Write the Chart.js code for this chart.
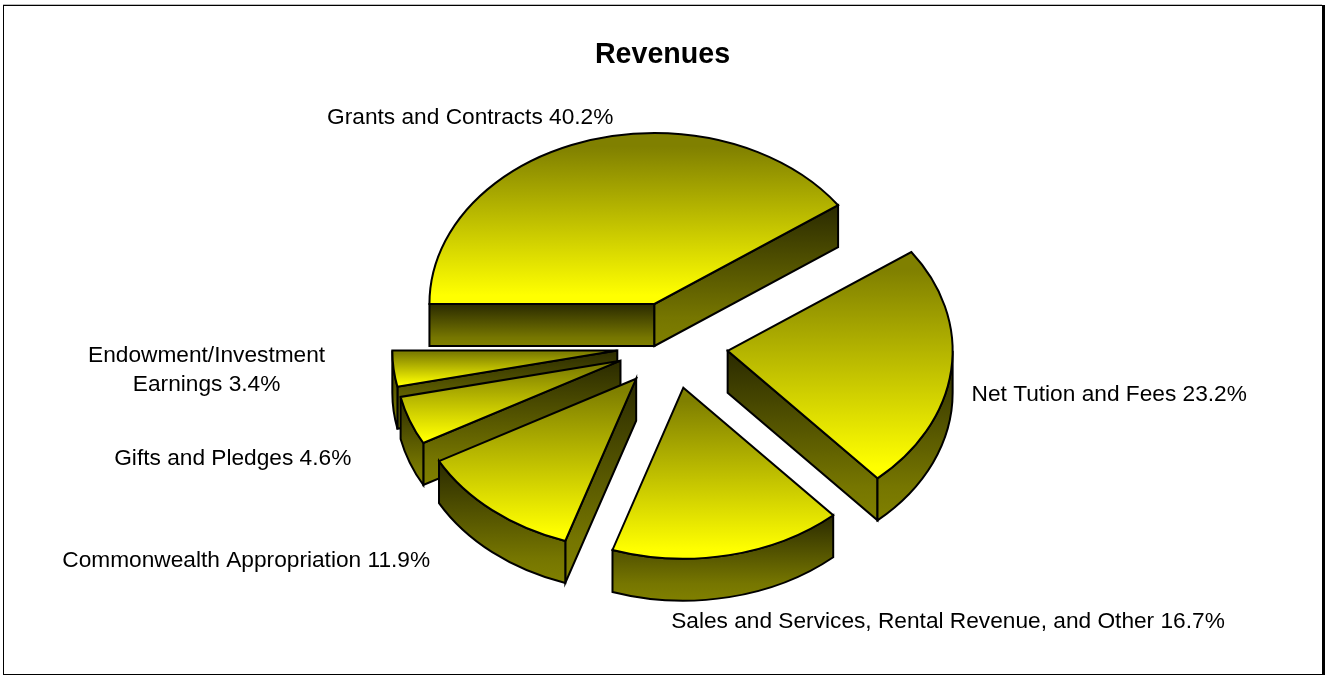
<!DOCTYPE html>
<html>
<head>
<meta charset="utf-8">
<title>Revenues</title>
<script src="https://cdn.jsdelivr.net/npm/chart.js@4"></script>
<style>
  body { margin: 0; background: #fff; }
  canvas { display: block; }
</style>
</head>
<body>
<canvas id="revenueChart" width="1325" height="675"></canvas>
<script>
const categories = [
    'Grants and Contracts',
    'Net Tution and Fees',
    'Sales and Services, Rental Revenue, and Other',
    'Commonwealth Appropriation',
    'Gifts and Pledges',
    'Endowment/Investment\nEarnings'
];
const shares = [40.2, 23.2, 16.7, 11.9, 4.6, 3.4];

// gap from pie centre, per slice
const explode = [58, 56, 56, 56, 55, 55];
// label shift from the middle of each slice rim
const labelShiftX = [-116, 158, 219, -246, -177, -187];
const labelShiftY = [-23, 25, 67, 51, 38, 2];

const TILT = 0.76;      // pie is seen from above, circle becomes an ellipse
const DEPTH = 42;       // thickness of the slices
const SHIFT_X = 9.5;    // pie sits a bit right of the title

function wallGradient(ctx, top, bottom) {
    const g = ctx.createLinearGradient(0, top, 0, bottom);
    g.addColorStop(0, '#2a2a00');
    g.addColorStop(0.8, '#767600');
    g.addColorStop(1, '#808000');
    return g;
}

function topGradient(ctx, top, bottom) {
    const g = ctx.createLinearGradient(0, top, 0, bottom);
    g.addColorStop(0, '#808000');
    g.addColorStop(0.08, '#808000');
    g.addColorStop(0.95, '#ffff00');
    g.addColorStop(1, '#ffff00');
    return g;
}

function paint(ctx, fill) {
    ctx.fillStyle = fill;
    ctx.fill();
    ctx.stroke();
}

// y range of the top face of one slice
function sliceRange(cy, r, a0, a1) {
    const ys = [cy, cy + Math.sin(a0) * r * TILT, cy + Math.sin(a1) * r * TILT];
    if (a0 < -Math.PI / 2 && a1 > -Math.PI / 2) ys.push(cy - r * TILT);
    if (a0 < Math.PI / 2 && a1 > Math.PI / 2) ys.push(cy + r * TILT);
    return [Math.min(...ys), Math.max(...ys)];
}

function drawEdgeWall(ctx, cx, cy, r, a) {
    const x = cx + Math.cos(a) * r;
    const y = cy + Math.sin(a) * r * TILT;
    ctx.beginPath();
    ctx.moveTo(cx, cy);
    ctx.lineTo(x, y);
    ctx.lineTo(x, y + DEPTH);
    ctx.lineTo(cx, cy + DEPTH);
    ctx.closePath();
    paint(ctx, wallGradient(ctx, Math.min(cy, y), Math.max(cy, y) + DEPTH));
}

function drawRim(ctx, cx, cy, r, a0, a1) {
    const from = Math.max(a0, 0);
    const to = Math.min(a1, Math.PI);
    if (to <= from) return;
    const yFrom = cy + Math.sin(from) * r * TILT;
    const yTo = cy + Math.sin(to) * r * TILT;
    let bottom = Math.max(yFrom, yTo);
    if (from < Math.PI / 2 && to > Math.PI / 2) bottom = cy + r * TILT;
    ctx.beginPath();
    ctx.ellipse(cx, cy, r, r * TILT, 0, from, to);
    ctx.lineTo(cx + Math.cos(to) * r, yTo + DEPTH);
    ctx.ellipse(cx, cy + DEPTH, r, r * TILT, 0, to, from, true);
    ctx.closePath();
    paint(ctx, wallGradient(ctx, Math.min(yFrom, yTo), bottom + DEPTH));
}

const pie3d = {
    id: 'pie3d',
    beforeDraw(chart) {
        const ctx = chart.ctx;
        ctx.save();
        ctx.fillStyle = '#fff';
        ctx.fillRect(0, 0, chart.width, chart.height);
        ctx.fillStyle = '#bbb';
        ctx.fillRect(3, 4, 1319, 1);
        ctx.fillStyle = '#000';
        ctx.fillRect(3, 5, 1319, 1);
        ctx.fillRect(3, 5, 1, 670);
        ctx.fillRect(3, 674, 1319, 1);
        ctx.fillRect(1322, 5, 3, 670);
        ctx.restore();
    },
    beforeDatasetDraw(chart, args) {
        const ctx = chart.ctx;
        const arcs = args.meta.data.map((arc, i) => ({ arc, i, mid: (arc.startAngle + arc.endAngle) / 2 }));
        // back slices first
        arcs.sort((a, b) => Math.sin(a.mid) - Math.sin(b.mid));

        ctx.save();
        ctx.strokeStyle = '#000';
        ctx.lineWidth = 2;
        ctx.lineJoin = 'miter';
        ctx.miterLimit = 5;
        for (const { arc, i, mid } of arcs) {
            const a0 = arc.startAngle;
            const a1 = arc.endAngle;
            const r = arc.outerRadius;
            const cx = arc.x + SHIFT_X + Math.cos(mid) * explode[i];
            const cy = arc.y + Math.sin(mid) * explode[i] * TILT;

            if (Math.cos(a0) < -0.001) drawEdgeWall(ctx, cx, cy, r, a0);
            if (Math.cos(a1) > 0.001) drawEdgeWall(ctx, cx, cy, r, a1);
            drawRim(ctx, cx, cy, r, a0, a1);

            const [top, bottom] = sliceRange(cy, r, a0, a1);
            ctx.beginPath();
            ctx.moveTo(cx, cy);
            ctx.ellipse(cx, cy, r, r * TILT, 0, a0, a1);
            ctx.closePath();
            paint(ctx, topGradient(ctx, top, bottom));
        }

        // slice labels
        ctx.fillStyle = '#000';
        ctx.font = '22.7px "Liberation Sans", Arial, sans-serif';
        ctx.textAlign = 'center';
        ctx.textBaseline = 'middle';
        for (const { arc, i, mid } of arcs) {
            const r = arc.outerRadius + explode[i];
            const x = arc.x + SHIFT_X + Math.cos(mid) * r + labelShiftX[i];
            const y = arc.y + Math.sin(mid) * r * TILT + labelShiftY[i];
            const lines = (categories[i] + ' ' + shares[i].toFixed(1) + '%').split('\n');
            lines.forEach((line, n) => {
                ctx.fillText(line, x, y + (n - (lines.length - 1) / 2) * 29);
            });
        }
        ctx.restore();
        return false;
    }
};

new Chart(document.getElementById('revenueChart').getContext('2d'), {
    type: 'pie',
    data: {
        labels: categories,
        datasets: [{
            data: shares,
            backgroundColor: '#ffff00',
            borderWidth: 0
        }]
    },
    options: {
        responsive: false,
        animation: false,
        rotation: -90,
        layout: { padding: { bottom: 104 } },
        plugins: {
            legend: { display: false },
            tooltip: { enabled: false },
            title: {
                display: true,
                text: 'Revenues',
                color: '#000',
                font: { family: '"Liberation Sans", Arial, sans-serif', size: 28.6, weight: 'bold', lineHeight: 1.2 },
                padding: { top: 38, bottom: 48.7 }
            }
        }
    },
    plugins: [pie3d]
});
</script>
</body>
</html>
